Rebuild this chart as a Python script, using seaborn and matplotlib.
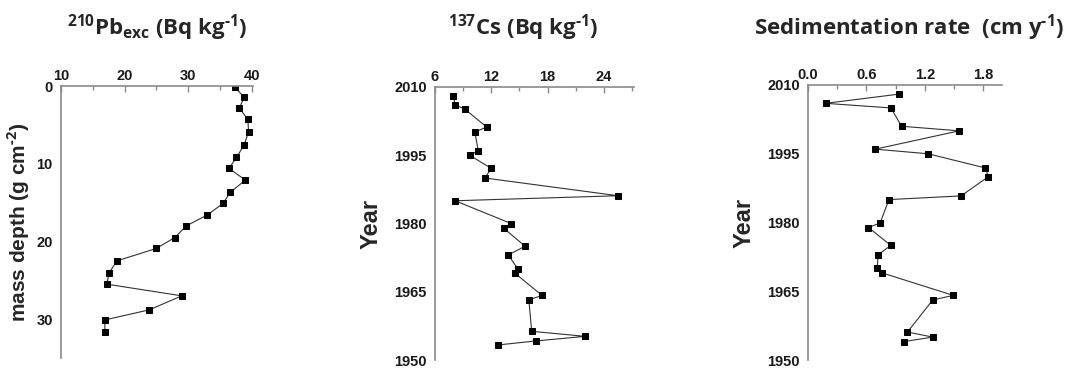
import matplotlib
matplotlib.use("Agg")
import matplotlib.pyplot as plt
import seaborn as sns
import pandas as pd
from matplotlib.ticker import MultipleLocator

# ---- data ----
pb_depth = [0.17, 1.45, 2.85, 4.3, 5.9, 7.6, 9.2, 10.6, 12.1, 13.7, 15.1, 16.6,
            18.0, 19.5, 20.9, 22.5, 24.0, 25.5, 27.0, 28.8, 30.1, 31.6]
pb_activity = [37.4, 38.8, 38.05, 39.4, 39.5, 38.8, 37.6, 36.4, 39.0, 36.6, 35.5, 33.0,
               29.7, 27.9, 25.0, 18.8, 17.6, 17.2, 29.0, 23.9, 16.9, 16.9]

cs_year = [2008.0, 2006.1, 2005.1, 2001.2, 2000.1, 1996.0, 1995.0, 1992.1, 1990.0,
           1986.1, 1985.0, 1980.0, 1979.0, 1975.0, 1973.1, 1970.1, 1969.1, 1964.2,
           1963.2, 1956.3, 1955.2, 1954.2, 1953.3]
cs_activity = [7.96, 8.14, 9.2, 11.5, 10.25, 10.6, 9.7, 12.0, 11.3, 25.5, 8.14, 14.1,
               13.3, 15.6, 13.8, 14.8, 14.5, 17.4, 16.0, 16.3, 22.0, 16.8, 12.7]

sr_year = [2008.0, 2006.0, 2005.0, 2001.0, 2000.0, 1996.0, 1995.0, 1991.9, 1990.0,
           1985.8, 1985.0, 1979.9, 1978.9, 1975.0, 1973.0, 1970.1, 1969.0, 1964.1,
           1963.1, 1956.1, 1955.0, 1954.0]
sr_rate = [0.93, 0.18, 0.85, 0.96, 1.55, 0.69, 1.23, 1.82, 1.85, 1.57, 0.83, 0.74,
           0.62, 0.85, 0.72, 0.71, 0.76, 1.49, 1.28, 1.02, 1.28, 0.98]

titles = [r"$^{\mathbf{210}}$Pb$_{\mathbf{exc}}$ (Bq kg$^{\text{-}\mathbf{1}}$)",
          r"$^{\mathbf{137}}$Cs (Bq kg$^{\text{-}\mathbf{1}}$)",
          r"Sedimentation rate  (cm y$^{\text{-}\mathbf{1}}$)"]
ylabels = [r"mass depth (g cm$^{\text{-}\mathbf{2}}$)", "Year", "Year"]

sns.set_theme(style="white")
plt.rcParams["font.family"] = ["Liberation Sans", "DejaVu Sans"]
plt.rcParams["mathtext.fontset"] = "custom"
plt.rcParams["mathtext.rm"] = "Open Sans:bold"
plt.rcParams["mathtext.bf"] = "Open Sans:bold"
plt.rcParams["mathtext.it"] = "Open Sans:bold"

W, H = 1074, 369
fig = plt.figure(figsize=(W / 100, H / 100), dpi=100)

# axes boxes in pixels: left, right, top, bottom
boxes = [(61, 253, 86, 358), (435, 634, 87, 360), (808, 1002, 85, 360)]
axes = []
for (l, r, t, b) in boxes:
    ax = fig.add_axes([l / W, 1 - b / H, (r - l) / W, (b - t) / H])
    axes.append(ax)

dfs = [pd.DataFrame({"x": pb_activity, "y": pb_depth}),
       pd.DataFrame({"x": cs_activity, "y": cs_year}),
       pd.DataFrame({"x": sr_rate, "y": sr_year})]

spine_col = "#8a8a8a"
for i, (ax, df) in enumerate(zip(axes, dfs)):
    sns.lineplot(data=df, x="x", y="y", sort=False, ax=ax, color="#333333",
                 linewidth=0.8, marker="s", markersize=4.5,
                 markerfacecolor="black", markeredgecolor="black",
                 estimator=None)
    for s in ["right", "bottom"]:
        ax.spines[s].set_visible(False)
    for s in ["left", "top"]:
        ax.spines[s].set_color(spine_col)
        ax.spines[s].set_linewidth(1.2)
    ax.xaxis.tick_top()
    ax.xaxis.set_label_position("top")
    ax.set_xlabel("")
    if i == 0:
        ax.set_ylabel(ylabels[i], fontsize=15, fontweight="bold", labelpad=3)
    else:
        ax.set_ylabel(ylabels[i], fontsize=17, fontweight="bold", labelpad=8)
    ax.tick_params(axis="x", which="both", direction="in", colors=spine_col,
                   labelcolor="#1a1a1a", pad=2)
    ax.tick_params(axis="x", which="major", length=4, width=1)
    ax.tick_params(axis="x", which="minor", length=3, width=1)
    ax.tick_params(axis="y", which="both", direction="out", colors=spine_col,
                   labelcolor="#1a1a1a", pad=2)
    ax.tick_params(axis="y", which="major", length=4, width=1)
    ax.tick_params(axis="y", which="minor", length=3, width=1)
    ax.tick_params(labelsize=10.5)

# panel 1
a = axes[0]
a.set_xlim(10, 40.2)
a.set_ylim(35, 0)
a.xaxis.set_major_locator(MultipleLocator(10))
a.xaxis.set_minor_locator(MultipleLocator(5))
a.yaxis.set_major_locator(MultipleLocator(10))
a.yaxis.set_minor_locator(MultipleLocator(5))

# panel 2
a = axes[1]
a.set_xlim(6, 27.2)
a.set_ylim(1950, 2010)
a.xaxis.set_major_locator(MultipleLocator(6))
a.xaxis.set_minor_locator(MultipleLocator(3))
a.yaxis.set_major_locator(MultipleLocator(15))
a.yaxis.set_minor_locator(MultipleLocator(7.5))

# panel 3
a = axes[2]
a.set_xlim(0, 1.99)
a.set_ylim(1950, 2010)
a.xaxis.set_major_locator(MultipleLocator(0.6))
a.xaxis.set_minor_locator(MultipleLocator(0.3))
a.xaxis.set_major_formatter(matplotlib.ticker.FormatStrFormatter("%.1f"))
a.yaxis.set_major_locator(MultipleLocator(15))
a.yaxis.set_minor_locator(MultipleLocator(7.5))

for ax in axes:
    for lab in ax.get_xticklabels() + ax.get_yticklabels():
        lab.set_fontweight("bold")

# titles
title_x = [157, 523, 909]
for i in range(3):
    fig.text(title_x[i] / W, 1 - 28 / H, titles[i], ha="center", va="center",
             fontsize=16, fontweight="bold", family="Open Sans")

fig.savefig("out.png", dpi=100)
